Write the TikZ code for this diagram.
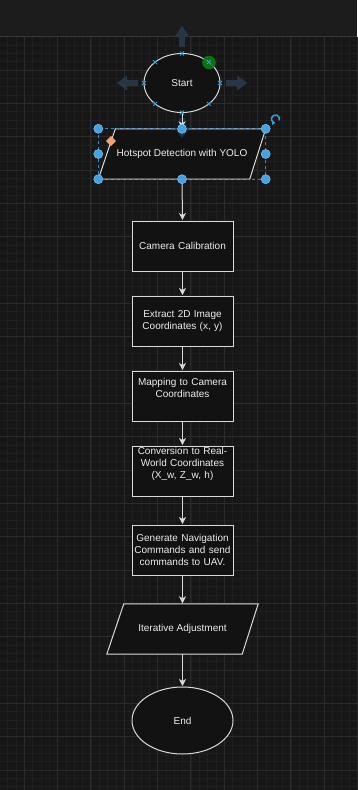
\documentclass[tikz,border=0pt]{standalone}
\usepackage{fontspec}
\setmainfont{Liberation Sans}
\usetikzlibrary{shapes.geometric,arrows.meta,calc}

\definecolor{canvas}{HTML}{171717}
\definecolor{toolbar}{HTML}{1C1C1C}
\definecolor{toolbarline}{HTML}{363636}
\definecolor{gridminor}{HTML}{1F1F1F}
\definecolor{gridmajor}{HTML}{2B2B2B}
\definecolor{shapefill}{HTML}{121212}
\definecolor{shapeline}{HTML}{DADADA}
\definecolor{labeltext}{HTML}{EDEDED}
\definecolor{hoverarrow}{HTML}{263646}
\definecolor{selblue}{HTML}{3A9AD9}
\definecolor{handleblue}{HTML}{42A2E2}
\definecolor{handleedge}{HTML}{7DBDEB}
\definecolor{dashblue}{HTML}{2C88CA}
\definecolor{hovergreen}{HTML}{0E7A10}
\definecolor{skewhandle}{HTML}{F4A06E}

\tikzset{
  box/.style={draw=shapeline, fill=shapefill, line width=1pt, rectangle,
    minimum width=101pt, minimum height=50pt, inner sep=0pt,
    text width=99pt, align=center, text=labeltext},
  oval/.style={draw=shapeline, fill=shapefill, line width=1pt, ellipse,
    inner sep=0pt, text=labeltext},
  slantframe/.style={rectangle, inner sep=0pt, minimum height=50pt, text=labeltext, align=center},
  slantline/.style={draw=shapeline, fill=shapefill, line width=1pt, line join=miter},
  flow/.style={draw=shapeline, line width=1pt,
    -{Stealth[length=7pt, width=7pt, inset=2pt]}, shorten >=0.5pt},
  gminor/.style={draw=gridminor, line width=1pt},
  gmajor/.style={draw=gridmajor, line width=1pt},
  hover/.style={fill=hoverarrow, draw=none},
  xmark/.style={draw=selblue, line width=1pt},
  handle/.style={circle, fill=handleblue, draw=handleedge, line width=0.6pt,
    minimum size=9pt, inner sep=0pt},
}

\begin{document}
\begin{tikzpicture}[x=1pt, y=-1pt, font=\fontsize{10}{12}\selectfont]
  % canvas and toolbar strip
  \fill[canvas] (0,0) rectangle (357,790);
  \useasboundingbox (0,0) rectangle (357,790);
  \fill[toolbar] (0,0) rectangle (357,36.2);

  % background grid
  \foreach \k in {0,...,42}
    \draw[gminor] ({7.67+8.3333*\k},36.7) -- ({7.67+8.3333*\k},790);
  \foreach \k in {5,...,94}
    \draw[gminor] (0,{3.333+8.3333*\k}) -- (357,{3.333+8.3333*\k});
  \foreach \k in {0,...,10}
    \draw[gmajor] ({24.33+33.333*\k},36.7) -- ({24.33+33.333*\k},790);
  \foreach \k in {1,...,22}
    \draw[gmajor] (0,{36.67+33.333*\k}) -- (357,{36.67+33.333*\k});
  \draw[toolbarline, line width=1pt] (0,36.2) -- (357,36.2);

  % flowchart shapes
  \node[oval, minimum width=76pt, minimum height=59pt] (start) at (182,83) {Start};

  \node[slantframe, minimum width=167pt] (hot) at (182,154) {};
  \path[slantline] ([xshift=17pt]hot.north west) -- (hot.north east)
    -- ([xshift=-16pt]hot.south east) -- (hot.south west) -- cycle;
  \node[text=labeltext] at (hot.center) {Hotspot Detection with YOLO};

  \node[box] (cal)  at (182.5,246) {Camera Calibration};
  \node[box] (ext)  at (182.5,321) {Extract 2D Image\\Coordinates (x, y)};
  \node[box] (map)  at (182.5,396) {Mapping to Camera\\Coordinates\\\strut};
  \node[box] (conv) at (182.5,471) {Conversion to Real-\\World Coordinates\\(X\_w, Z\_w, h)\\\strut};
  \node[box] (gen)  at (182.5,550) {Generate Navigation\\Commands and send\\commands to UAV.};

  \node[slantframe, minimum width=151pt] (iter) at (182.5,629) {};
  \path[slantline] ([xshift=17pt]iter.north west) -- (iter.north east)
    -- ([xshift=-16pt]iter.south east) -- (iter.south west) -- cycle;
  \node[text=labeltext] at (iter.center) {Iterative Adjustment};

  \node[oval, minimum width=101pt, minimum height=67pt] (end) at (182.5,720.5) {End};

  % hover arrows around the start node
  \path[hover] (179,47) -- (185,47) -- (185,37) -- (189.5,37) -- (182,26)
    -- (174.5,37) -- (179,37) -- cycle;
  \path[hover] (138,80) -- (138,86) -- (127,86) -- (127,90.5) -- (117,83)
    -- (127,75.5) -- (127,80) -- cycle;
  \path[hover] (226,80) -- (226,86) -- (237,86) -- (237,90.5) -- (247.5,83)
    -- (237,75.5) -- (237,80) -- cycle;
  \path[hover, opacity=0.85] (179,118) -- (185,118) -- (185,128) -- (189.5,128)
    -- (182,138) -- (174.5,128) -- (179,128) -- cycle;

  % connectors
  \draw[flow] (start.south) -- (hot.north);
  \draw[flow] (hot.south) -- (cal.north);
  \draw[flow] (cal.south) -- (ext.north);
  \draw[flow] (ext.south) -- (map.north);
  \draw[flow] (map.south) -- (conv.north);
  \draw[flow] (conv.south) -- (gen.north);
  \draw[flow] (gen.south) -- (iter.north);
  \draw[flow] (iter.south) -- (end.south |- end.north);

  % connection points on the start node
  \fill[hovergreen, opacity=0.9] (209,62.5) circle[radius=6.8pt];
  \foreach \a in {0,45,...,315}
    \draw[xmark] ($(start.center)+({38*cos(\a)},{29.5*sin(\a)})$) ++(-2,-2) -- ++(4,4)
      ++(0,-4) -- ++(-4,4);

  % selection frame of the hotspot node
  \draw[dashblue, line width=1pt, dash pattern=on 3pt off 3pt]
    (hot.north west) rectangle (hot.south east);
  \foreach \p in {north west, north, north east, west, east, south west, south, south east}
    \node[handle] at (hot.\p) {};
  \path[fill=skewhandle, draw=skewhandle!80!white, line width=0.5pt]
    (111,136.5) -- (115.5,141) -- (111,145.5) -- (106.5,141) -- cycle;

  % rotation handle
  \coordinate (rot) at (275.5,119);
  \draw[selblue, line width=1.6pt, -{Triangle[length=3pt, width=4.5pt]}]
    ($(rot)+(-20:4pt)$) arc[start angle=-20, end angle=265, radius=4pt];
\end{tikzpicture}
\end{document}
